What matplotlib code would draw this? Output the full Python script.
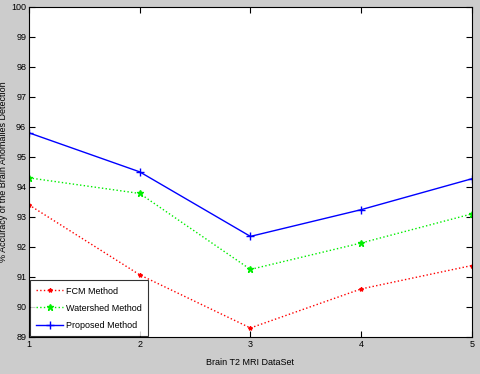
import matplotlib
matplotlib.use("Agg")
import matplotlib.pyplot as plt

datasets = [1, 2, 3, 4, 5]
fcm = [93.4, 91.07, 89.3, 90.6, 91.38]
watershed = [94.3, 93.78, 91.25, 92.13, 93.1]
proposed = [95.8, 94.5, 92.35, 93.24, 94.27]

plt.rcParams['font.family'] = ['Liberation Sans', 'DejaVu Sans']

fig = plt.figure(figsize=(4.8, 3.74), dpi=100, facecolor='#cccccc')
ax = fig.add_axes([0.0604, 0.099, 0.9226, 0.883])

ax.plot(datasets, fcm, color='red', linestyle=':', marker='*', markersize=3,
        linewidth=1, label='FCM Method')
ax.plot(datasets, watershed, color='#00ee00', linestyle=':', marker='*', markersize=5,
        linewidth=1, label='Watershed Method')
ax.plot(datasets, proposed, color='blue', linestyle='-', marker='+', markersize=6,
        linewidth=1, label='Proposed Method')

ax.set_xlim(1, 5)
ax.set_ylim(89, 100)
ax.set_xticks(datasets)
ax.set_yticks(range(89, 101))
ax.tick_params(direction='in', top=True, right=True, labelsize=6.5, length=4,
               width=0.8, pad=2)
for s in ax.spines.values():
    s.set_linewidth(0.8)

ax.set_xlabel('Brain T2 MRI DataSet', fontsize=6.5)
ax.xaxis.set_label_coords(0.5, -0.065)
ax.set_ylabel('% Accuracy of the Brain Anomalies Detection', fontsize=6.5)
ax.yaxis.set_label_coords(-0.047, 0.5)

leg = ax.legend(loc='lower left', fontsize=6.5, frameon=True, fancybox=False,
                edgecolor='black', borderaxespad=0.1, handlelength=3.0,
                handletextpad=0.3, labelspacing=0.9, borderpad=0.7)
leg.get_frame().set_linewidth(0.8)

fig.savefig('out.png', dpi=100, facecolor=fig.get_facecolor())
